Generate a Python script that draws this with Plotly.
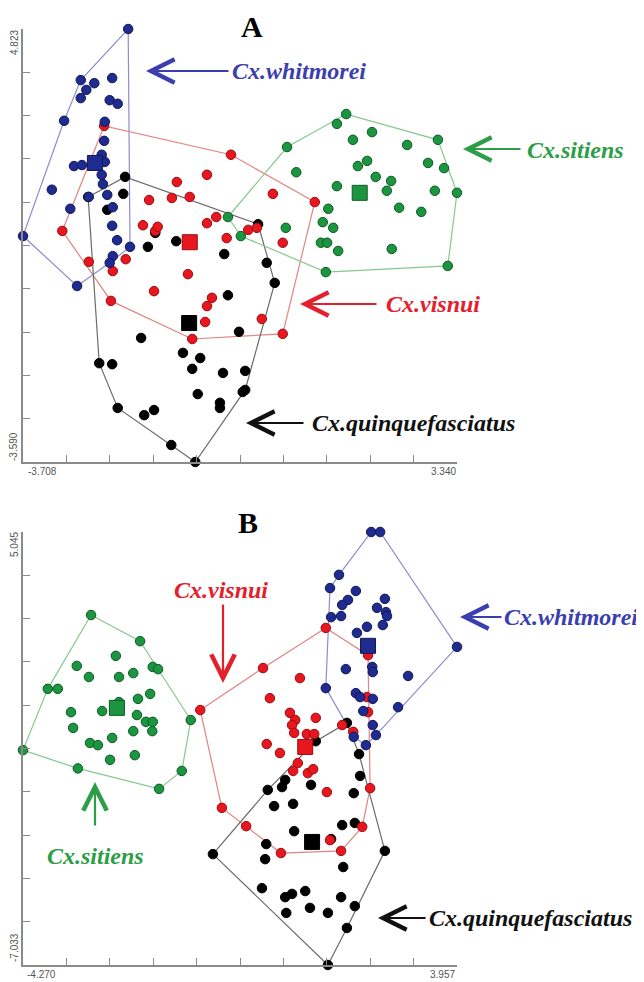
import numpy as np
import plotly.graph_objects as go

# ---------------- Panel A (axis ranges from the axis end labels) ----------------
A_xrange = [-3.708, 3.340]
A_yrange = [-3.590, 4.823]

A_whit_x = [-2.00, -2.77, -2.68, -2.55, -2.26, -2.77, -2.30, -2.17, -3.04, -2.38, -2.39, -2.88, -2.75, -2.43, -2.38,
            -2.43, -2.41, -3.24, -2.64, -2.34, -2.94, -2.25, -3.708, -2.26, -2.18, -1.97, -2.25, -2.30, -2.83]
A_whit_y = [4.823, 3.83, 3.64, 3.77, 3.87, 3.48, 3.44, 3.37, 3.04, 3.02, 2.65, 2.16, 2.18, 2.38, 2.24,
            1.99, 1.81, 1.70, 1.56, 1.60, 1.33, 1.36, 0.80, 1.00, 0.72, 0.59, 0.41, 0.28, -0.17]

A_vis_x = [-2.39, -0.33, 1.03, -0.72, -1.21, 0.35, -1.66, -1.29, -1.00, -0.72, -0.57, -1.76, -1.56, -1.52, -0.05, 0.09,
           -3.07, -0.40, 0.51, -2.64, -2.04, -2.25, -1.03, -1.58, -2.28, -0.64, -0.72, -0.75, 0.17, -0.96, 0.51]
A_vis_y = [2.94, 2.38, 1.46, 1.99, 1.85, 1.62, 1.50, 1.54, 1.56, 1.05, 1.17, 1.01, 0.90, 0.98, 0.92, 0.96,
           0.90, 0.76, 0.67, 0.30, 0.35, 0.12, 0.06, -0.27, -0.46, -0.40, -0.56, -0.87, -0.81, -1.20, -1.10]

A_quin_x = [-2.05, -2.08, -2.65, -2.34, 0.11, -1.56, -1.68, -1.22, -0.44, 0.25, 0.38, -0.38, -0.20, -1.79, -1.11, -0.83,
            -2.47, -2.26, -0.96, -0.46, -0.10, -0.87, -0.10, -0.14, -0.51, -0.51, -2.17, -1.74, -1.58, -1.30, -0.91]
A_quin_y = [1.95, 1.62, 1.56, 1.31, 1.03, 0.86, 0.59, 0.70, 0.45, 0.28, -0.11, -0.35, -1.06, -1.18, -1.47, -1.57,
            -1.67, -1.69, -1.78, -1.86, -1.82, -2.27, -2.19, -2.23, -2.44, -2.54, -2.54, -2.68, -2.58, -3.26, -3.590]

A_sit_x = [1.54, 1.39, 3.03, 1.96, 1.65, 2.53, 0.58, 2.87, 3.13, 1.73, 1.88, 2.02, 2.27, 2.20, 0.73, 1.39,
           2.98, 3.340, 1.25, 2.40, 2.76, 1.16, 1.33, 0.56, -0.38, -0.17, 1.13, 1.23, 1.41, 2.28, 1.21, 3.19]
A_sit_y = [3.17, 2.98, 2.67, 2.82, 2.67, 2.57, 2.53, 2.22, 2.12, 2.16, 2.26, 1.95, 1.87, 1.68, 2.04, 1.77,
           1.68, 1.64, 1.33, 1.35, 1.27, 1.07, 0.96, 0.96, 1.17, 0.80, 0.67, 0.67, 0.51, 0.55, 0.10, 0.22]

# centroids: whitmorei, visnui, quinquefasciatus, sitiens
A_cen_x = [-2.54, -1.00, -1.01, 1.76]
A_cen_y = [2.22, 0.68, -0.89, 1.64]

# ---------------- Panel B ----------------
B_xrange = [-4.270, 3.957]
B_yrange = [-7.033, 5.045]

B_whit_x = [2.33, 2.50, 1.72, 1.55, 2.04, 1.89, 1.78, 2.59, 2.44, 2.61, 2.63, 1.57, 1.76, 2.25, 2.55, 2.06,
            3.957, 1.85, 2.35, 2.36, 3.03, 1.47, 2.04, 2.12, 2.36, 2.84, 2.18, 2.36, 2.42, 2.00, 2.23]
B_whit_y = [5.045, 5.045, 3.85, 3.48, 3.40, 3.15, 3.01, 3.18, 2.93, 2.81, 2.70, 2.67, 2.70, 2.40, 2.45, 2.23,
            1.84, 1.22, 1.28, 1.14, 1.03, 0.69, 0.55, 0.44, 0.39, 0.16, 0.05, -0.34, -0.62, -0.67, -0.90]

B_vis_x = [1.47, 2.27, 0.28, 0.98, 0.41, -0.91, 0.79, 0.89, 0.83, 0.87, 1.28, 1.11, 1.25, 0.35, 0.60, 1.78,
           1.99, 2.25, 2.27, 0.94, 0.85, 1.13, 1.23, 2.31, 1.49, -0.50, -0.04, 2.16, 1.55, 0.62, 1.76]
B_vis_y = [2.37, 1.61, 1.25, 0.97, 0.41, 0.08, 0.00, -0.20, -0.34, -0.56, -0.14, -0.59, -0.59, -0.87, -1.12, -0.34,
           -0.53, 0.44, 0.02, -1.40, -1.62, -1.68, -1.57, -2.10, -2.21, -2.65, -3.16, -3.18, -3.55, -3.91, -3.85]

B_quin_x = [1.87, 1.28, 0.70, 0.64, 0.37, 1.19, 2.10, 2.12, 2.00, 0.49, 0.85, 0.87, 1.78, 2.02, 0.34, 1.57,
            2.59, -0.67, 0.32, 1.80, 0.26, 0.70, 0.83, 1.08, 1.76, 2.02, 0.72, 1.17, 1.51, 1.87, 1.51]
B_quin_y = [-0.28, -0.79, -1.87, -2.07, -2.15, -2.01, -1.15, -1.76, -2.24, -2.60, -2.54, -3.30, -3.13, -3.07, -3.66, -3.52,
            -3.85, -3.94, -4.08, -4.30, -4.89, -5.14, -5.05, -4.97, -5.14, -5.39, -5.58, -5.44, -5.58, -6.00, -7.033]

B_sit_x = [-2.98, -2.05, -1.81, -1.71, -2.51, -3.25, -3.02, -2.45, -2.18, -3.80, -3.61, -1.86, -2.09, -3.36, -3.32, -2.77,
           -2.45, -2.11, -1.94, -1.81, -1.82, -2.18, -2.58, -3.00, -2.85, -1.09, -4.270, -1.26, -1.69, -3.23, -2.62, -2.15]
B_sit_y = [2.73, 2.00, 1.28, 1.22, 1.59, 1.31, 1.00, 1.00, 1.11, 0.67, 0.67, 0.53, 0.39, 0.02, -0.42, 0.05,
           0.30, -0.06, -0.25, -0.25, -0.51, -0.51, -0.70, -0.84, -0.90, -0.20, -1.04, -1.62, -2.12, -1.55, -1.31, -1.18]

B_cen_x = [2.27, 1.08, 1.21, -2.49]
B_cen_y = [1.87, -0.95, -3.60, 0.14]

species = ["Cx.whitmorei", "Cx.visnui", "Cx.quinquefasciatus", "Cx.sitiens"]

# styles
FILL = {"w": "#1f2b8e", "v": "#e8161f", "q": "#000000", "s": "#1b9540"}
EDGE = {"w": "#10185a", "v": "#9a0c10", "q": "#000000", "s": "#0b5a22"}
HULL = {"w": "#8a8ed0", "v": "#e38383", "q": "#6a6a6a", "s": "#86c98e"}
TXT = {"w": "#3b3fae", "v": "#e3202c", "q": "#111111", "s": "#2c9e48"}


def hull(xs, ys):
    pts = sorted(set(zip(xs, ys)))

    def cross(o, a, b):
        return (a[0] - o[0]) * (b[1] - o[1]) - (a[1] - o[1]) * (b[0] - o[0])

    lower, upper = [], []
    for p in pts:
        while len(lower) >= 2 and cross(lower[-2], lower[-1], p) <= 0:
            lower.pop()
        lower.append(p)
    for p in reversed(pts):
        while len(upper) >= 2 and cross(upper[-2], upper[-1], p) <= 0:
            upper.pop()
        upper.append(p)
    h = lower[:-1] + upper[:-1]
    h.append(h[0])
    return [p[0] for p in h], [p[1] for p in h]


fig = go.Figure()

panels = [
    ("x", "y", [("w", A_whit_x, A_whit_y), ("v", A_vis_x, A_vis_y), ("q", A_quin_x, A_quin_y), ("s", A_sit_x, A_sit_y)],
     A_cen_x, A_cen_y),
    ("x2", "y2", [("w", B_whit_x, B_whit_y), ("v", B_vis_x, B_vis_y), ("q", B_quin_x, B_quin_y), ("s", B_sit_x, B_sit_y)],
     B_cen_x, B_cen_y),
]

for xa, ya, groups, cx, cy in panels:
    for key, xs, ys in groups:
        hx, hy = hull(xs, ys)
        fig.add_trace(go.Scatter(x=hx, y=hy, mode="lines", xaxis=xa, yaxis=ya,
                                 line=dict(color=HULL[key], width=1.2), cliponaxis=False,
                                 hoverinfo="skip", showlegend=False))
    order = {"q": 0, "s": 1, "v": 2, "w": 3}
    for key, xs, ys in sorted(groups, key=lambda g: order[g[0]]):
        fig.add_trace(go.Scatter(x=xs, y=ys, mode="markers", xaxis=xa, yaxis=ya, cliponaxis=False,
                                 marker=dict(size=9.5, color=FILL[key], line=dict(color=EDGE[key], width=1)),
                                 showlegend=False))
    keys = ["w", "v", "q", "s"]
    fig.add_trace(go.Scatter(x=cx, y=cy, mode="markers", xaxis=xa, yaxis=ya, cliponaxis=False,
                             marker=dict(symbol="square", size=15, color=[FILL[k] for k in keys],
                                         line=dict(color=[EDGE[k] for k in keys], width=1)),
                             showlegend=False))

# the page body has an 8px margin, so the figure is 8px smaller than the window and
# every layout position below (given in window pixels) is shifted by that margin
OFF = 8
W, H = 644 - OFF, 982 - OFF


def X(px):
    return (px - OFF) / W


def Y(py):
    return 1 - (py - OFF) / H


axis_common = dict(showgrid=False, zeroline=False, showline=True, linecolor="#8a8a8a", linewidth=1.5,
                   ticks="inside", ticklen=7, tickwidth=1.3, tickcolor="#8a8a8a", showticklabels=False)

fig.update_layout(
    width=W, height=H, margin=dict(l=0, r=0, t=0, b=0),
    paper_bgcolor="white", plot_bgcolor="white", showlegend=False,
    xaxis=dict(domain=[X(23), X(457)], range=A_xrange, anchor="y",
               tickvals=list(np.linspace(A_xrange[0], A_xrange[1], 11)), **axis_common),
    yaxis=dict(domain=[Y(462), Y(29)], range=A_yrange, anchor="x",
               tickvals=list(np.linspace(A_yrange[0], A_yrange[1], 11)), **axis_common),
    xaxis2=dict(domain=[X(23), X(457)], range=B_xrange, anchor="y2",
                tickvals=list(np.linspace(B_xrange[0], B_xrange[1], 11)), **axis_common),
    yaxis2=dict(domain=[Y(965), Y(532)], range=B_yrange, anchor="x2",
                tickvals=list(np.linspace(B_yrange[0], B_yrange[1], 11)), **axis_common),
)

ann = []
tick_font = dict(family="Liberation Sans, Arial", size=10, color="#555555")


def lab(text, px, py, angle=0):
    ann.append(dict(text=text, x=X(px), y=Y(py), xref="paper", yref="paper", showarrow=False,
                    xanchor="center", yanchor="middle", textangle=angle, font=tick_font))


lab(f"{A_yrange[1]:.3f}", 14, 43, -90)
lab(f"{A_yrange[0]:.3f}", 14, 447, -90)
lab(f"{A_xrange[0]:.3f}", 42, 472)
lab(f"{A_xrange[1]:.3f}", 443, 472)
lab(f"{B_yrange[1]:.3f}", 14, 545, -90)
lab(f"{B_yrange[0]:.3f}", 14, 948, -90)
lab(f"{B_xrange[0]:.3f}", 41, 974)
lab(f"{B_xrange[1]:.3f}", 442, 974)

for t, px, py in [("A", 252, 27), ("B", 248, 522)]:
    ann.append(dict(text=f"<b>{t}</b>", x=X(px), y=Y(py), xref="paper", yref="paper", showarrow=False,
                    xanchor="center", yanchor="middle",
                    font=dict(family="Liberation Serif, Times New Roman", size=30, color="#000")))


def arrow(key, tip, dx, dy):
    ann.append(dict(text="", x=X(tip[0]), y=Y(tip[1]), xref="paper", yref="paper", ax=dx, ay=dy,
                    axref="pixel", ayref="pixel", showarrow=True, arrowhead=5, arrowsize=2.1,
                    arrowwidth=2.2, arrowcolor=TXT[key], standoff=0))


def name(key, text, px, py, anchor="left"):
    ann.append(dict(text=f"<b><i>{text}</i></b>", x=X(px), y=Y(py), xref="paper", yref="paper",
                    showarrow=False, xanchor=anchor, yanchor="middle",
                    font=dict(family="Liberation Serif, Times New Roman", size=24, color=TXT[key])))


# Panel A labels
arrow("w", (146, 71), 84, 0); name("w", species[0], 230, 71)
arrow("s", (463, 149), 59, 0); name("s", species[3], 525, 150)
arrow("v", (300, 304), 78, 0); name("v", species[1], 384, 304)
arrow("q", (246, 423), 59, 0); name("q", species[2], 310, 423)
# Panel B labels
name("v", species[1], 221, 590, "center"); arrow("v", (223, 683), 0, -80)
arrow("w", (460, 617), 43, 0); name("w", species[0], 502, 617)
arrow("q", (378, 918), 49, 0); name("q", species[2], 427, 918)
arrow("s", (95, 782), 0, 45); name("s", species[3], 95, 856, "center")

fig.update_layout(annotations=ann)
fig.write_html("out.html")
